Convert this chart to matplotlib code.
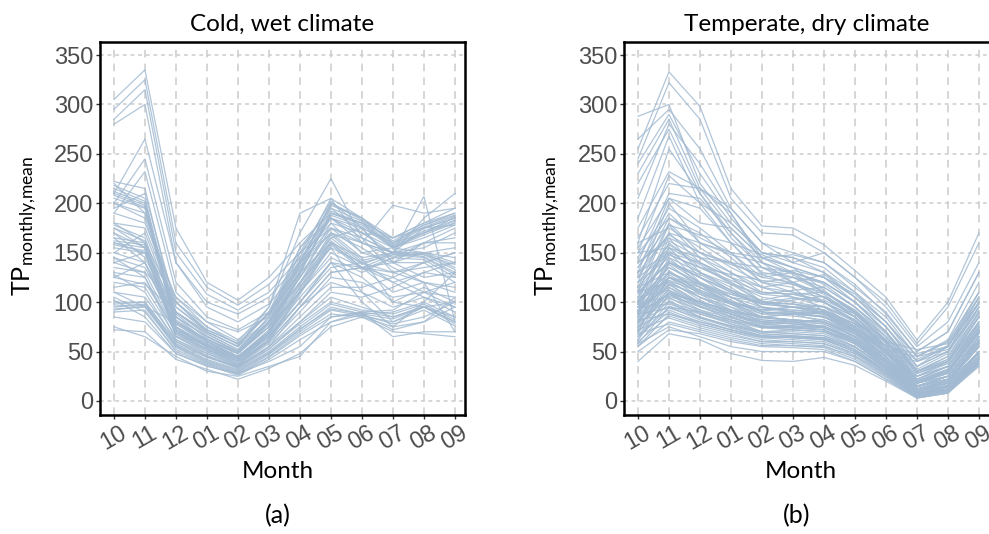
import matplotlib
matplotlib.use("Agg")
import matplotlib.pyplot as plt
import matplotlib.transforms as mtransforms

months = ["10", "11", "12", "01", "02", "03", "04", "05", "06", "07", "08", "09"]
yticks = [0, 50, 100, 150, 200, 250, 300, 350]
titles = ["Cold, wet climate", "Temperate, dry climate"]
panel_tags = ["(a)", "(b)"]

# Panel (a): cold, wet climate
cold_wet = [
    [305, 335, 175, 120, 102, 125, 160, 190, 180, 165, 175, 185],
    [295, 325, 160, 115, 97, 118, 150, 185, 175, 160, 170, 180],
    [285, 315, 150, 108, 92, 110, 145, 180, 170, 155, 165, 178],
    [280, 300, 140, 100, 88, 105, 140, 175, 165, 150, 160, 175],
    [210, 265, 140, 95, 80, 98, 135, 170, 160, 150, 155, 170],
    [200, 245, 120, 85, 72, 90, 140, 200, 185, 160, 178, 190],
    [190, 232, 110, 80, 70, 85, 130, 190, 180, 155, 170, 186],
    [222, 215, 85, 65, 50, 80, 145, 205, 185, 165, 180, 190],
    [218, 205, 82, 62, 48, 75, 140, 200, 183, 162, 178, 188],
    [215, 202, 80, 60, 45, 72, 138, 198, 185, 160, 176, 187],
    [212, 200, 78, 58, 44, 70, 135, 195, 182, 158, 175, 185],
    [210, 198, 75, 55, 42, 68, 130, 192, 180, 157, 172, 183],
    [208, 196, 74, 54, 40, 66, 128, 190, 178, 156, 170, 182],
    [205, 195, 72, 56, 43, 70, 132, 188, 176, 155, 168, 180],
    [220, 190, 90, 68, 52, 85, 150, 202, 175, 140, 160, 165],
    [200, 185, 88, 63, 48, 78, 142, 185, 165, 150, 175, 178],
    [195, 210, 95, 70, 55, 90, 155, 195, 170, 165, 180, 195],
    [178, 165, 80, 62, 48, 75, 125, 175, 150, 155, 150, 140],
    [175, 162, 75, 58, 45, 70, 120, 170, 145, 150, 148, 138],
    [165, 160, 72, 56, 42, 68, 118, 168, 142, 150, 150, 135],
    [162, 158, 70, 55, 40, 65, 115, 165, 140, 148, 148, 133],
    [160, 155, 68, 53, 38, 63, 112, 162, 138, 150, 146, 130],
    [158, 152, 66, 52, 37, 62, 110, 160, 135, 148, 145, 128],
    [155, 150, 65, 50, 36, 60, 108, 158, 133, 145, 143, 125],
    [170, 145, 85, 65, 50, 75, 110, 150, 135, 130, 140, 150],
    [150, 170, 90, 68, 52, 80, 125, 180, 150, 140, 150, 155],
    [180, 175, 95, 72, 58, 88, 135, 185, 160, 145, 160, 160],
    [165, 140, 70, 55, 42, 65, 100, 140, 135, 140, 140, 120],
    [145, 135, 78, 60, 45, 70, 110, 145, 130, 145, 150, 145],
    [140, 150, 72, 57, 44, 68, 115, 155, 140, 130, 135, 140],
    [135, 130, 70, 52, 40, 62, 100, 135, 140, 120, 130, 125],
    [130, 125, 68, 50, 38, 60, 95, 130, 135, 110, 120, 110],
    [125, 140, 75, 56, 42, 66, 105, 140, 125, 100, 115, 100],
    [120, 115, 65, 48, 36, 58, 90, 125, 120, 105, 110, 95],
    [115, 120, 70, 52, 40, 60, 95, 120, 110, 95, 105, 90],
    [110, 105, 62, 46, 34, 55, 85, 115, 115, 125, 140, 150],
    [128, 110, 60, 45, 33, 52, 80, 110, 105, 115, 130, 140],
    [100, 100, 60, 45, 35, 55, 80, 105, 95, 85, 95, 80],
    [98, 100, 58, 44, 34, 53, 78, 100, 92, 88, 98, 82],
    [96, 98, 57, 42, 32, 50, 75, 98, 90, 85, 96, 80],
    [95, 97, 55, 40, 30, 48, 72, 95, 88, 83, 95, 78],
    [93, 95, 54, 39, 29, 47, 70, 92, 86, 80, 92, 76],
    [92, 96, 56, 41, 31, 49, 73, 93, 88, 90, 100, 85],
    [105, 90, 52, 38, 28, 45, 68, 88, 85, 75, 80, 95],
    [90, 92, 50, 37, 27, 44, 66, 85, 90, 92, 110, 120],
    [102, 85, 48, 36, 26, 42, 62, 80, 87, 78, 85, 100],
    [75, 65, 45, 30, 25, 35, 45, 80, 90, 65, 70, 70],
    [72, 70, 42, 32, 22, 33, 48, 75, 85, 70, 68, 65],
    [85, 80, 48, 35, 28, 40, 55, 85, 88, 72, 80, 105],
    [180, 160, 100, 70, 55, 95, 170, 225, 165, 130, 120, 115],
    [150, 140, 85, 60, 48, 80, 150, 175, 160, 150, 207, 80],
    [170, 155, 80, 62, 50, 85, 155, 185, 170, 150, 185, 210],
    [190, 180, 105, 75, 60, 95, 190, 205, 160, 198, 190, 195],
    [140, 130, 100, 72, 58, 90, 140, 170, 155, 135, 120, 70],
    [110, 95, 80, 60, 45, 65, 100, 140, 100, 75, 100, 130],
    [125, 118, 90, 70, 55, 80, 120, 155, 110, 80, 95, 85],
    [160, 150, 105, 80, 62, 88, 130, 160, 145, 100, 95, 100],
    [145, 125, 62, 48, 35, 55, 95, 130, 135, 120, 105, 95],
    [175, 155, 90, 66, 50, 78, 120, 160, 135, 125, 110, 105],
    [200, 190, 100, 75, 57, 82, 125, 165, 175, 140, 125, 130],
]

# Panel (b): temperate, dry climate
temperate_dry = [
    [255, 333, 298, 215, 177, 175, 158, 132, 105, 62, 100, 170],
    [245, 322, 285, 205, 170, 168, 150, 125, 100, 58, 95, 160],
    [288, 300, 220, 180, 150, 140, 130, 110, 85, 45, 60, 110],
    [265, 295, 255, 195, 160, 150, 140, 115, 90, 50, 70, 130],
    [240, 290, 230, 185, 150, 145, 130, 105, 80, 40, 55, 100],
    [230, 285, 215, 175, 145, 130, 120, 100, 75, 35, 50, 95],
    [205, 280, 240, 190, 145, 135, 125, 100, 70, 30, 45, 90],
    [220, 275, 210, 170, 140, 128, 110, 90, 65, 28, 40, 85],
    [185, 268, 200, 160, 130, 125, 115, 95, 70, 32, 48, 100],
    [160, 255, 210, 165, 135, 120, 105, 85, 60, 25, 40, 80],
    [175, 232, 215, 195, 160, 140, 150, 125, 95, 55, 80, 140],
    [150, 228, 200, 180, 150, 145, 135, 110, 80, 45, 60, 110],
    [165, 220, 215, 190, 140, 130, 118, 95, 68, 30, 42, 88],
    [140, 210, 205, 170, 135, 125, 110, 90, 60, 22, 35, 75],
    [130, 205, 195, 160, 128, 118, 105, 85, 55, 20, 30, 70],
    [155, 205, 180, 175, 145, 135, 125, 105, 75, 35, 55, 105],
    [120, 200, 160, 150, 120, 110, 100, 80, 55, 18, 25, 65],
    [145, 195, 175, 150, 125, 130, 110, 90, 60, 25, 35, 80],
    [135, 190, 160, 140, 115, 105, 95, 75, 50, 15, 22, 60],
    [125, 185, 170, 145, 120, 115, 90, 70, 45, 12, 20, 55],
    [115, 180, 150, 130, 110, 108, 100, 85, 55, 20, 30, 70],
    [110, 178, 145, 125, 100, 95, 88, 70, 45, 10, 18, 50],
    [160, 175, 155, 135, 120, 125, 120, 100, 70, 30, 40, 85],
    [100, 170, 140, 120, 100, 98, 92, 72, 48, 15, 22, 58],
    [130, 168, 150, 140, 125, 120, 108, 85, 55, 20, 28, 68],
    [95, 165, 130, 115, 95, 90, 85, 68, 42, 8, 15, 45],
    [140, 162, 145, 130, 115, 110, 105, 88, 60, 25, 35, 78],
    [105, 160, 135, 120, 105, 100, 95, 80, 55, 22, 32, 72],
    [120, 158, 140, 125, 108, 105, 100, 82, 52, 18, 25, 62],
    [90, 155, 125, 105, 90, 88, 80, 65, 40, 10, 15, 48],
    [150, 155, 138, 118, 100, 98, 92, 78, 50, 18, 28, 70],
    [112, 152, 130, 112, 95, 92, 88, 72, 45, 12, 20, 55],
    [98, 150, 120, 100, 85, 82, 78, 62, 38, 8, 12, 42],
    [125, 148, 135, 122, 110, 108, 102, 88, 62, 28, 38, 85],
    [85, 145, 118, 98, 82, 80, 75, 60, 36, 6, 12, 40],
    [108, 142, 125, 110, 98, 95, 90, 75, 48, 15, 22, 60],
    [95, 140, 120, 105, 90, 88, 85, 70, 45, 15, 25, 62],
    [88, 138, 115, 98, 85, 82, 80, 65, 40, 10, 18, 50],
    [102, 135, 118, 102, 88, 86, 82, 68, 42, 12, 20, 58],
    [80, 132, 110, 95, 80, 78, 75, 60, 35, 8, 12, 45],
    [115, 130, 112, 100, 92, 95, 92, 78, 52, 20, 30, 75],
    [92, 128, 108, 92, 80, 78, 76, 62, 38, 10, 16, 48],
    [78, 125, 105, 90, 78, 75, 72, 58, 34, 7, 12, 42],
    [100, 125, 110, 98, 88, 90, 88, 74, 48, 18, 28, 70],
    [85, 122, 102, 88, 76, 74, 72, 58, 35, 8, 14, 45],
    [110, 120, 105, 95, 85, 82, 80, 66, 42, 14, 22, 60],
    [72, 118, 100, 85, 74, 72, 70, 55, 32, 6, 10, 40],
    [90, 118, 98, 88, 78, 80, 82, 70, 45, 15, 25, 65],
    [95, 115, 100, 90, 82, 80, 78, 65, 40, 12, 20, 55],
    [68, 115, 96, 82, 70, 68, 66, 52, 30, 5, 10, 38],
    [82, 112, 95, 85, 75, 74, 72, 60, 38, 10, 18, 50],
    [105, 112, 100, 92, 85, 88, 86, 72, 48, 18, 30, 72],
    [75, 110, 92, 80, 70, 70, 68, 55, 34, 8, 14, 45],
    [88, 108, 95, 86, 78, 76, 74, 62, 40, 12, 20, 55],
    [65, 108, 90, 78, 68, 66, 64, 52, 30, 5, 10, 40],
    [98, 106, 96, 88, 80, 82, 80, 68, 44, 15, 25, 65],
    [78, 105, 88, 78, 70, 68, 66, 55, 33, 8, 15, 48],
    [92, 104, 92, 84, 76, 75, 74, 62, 40, 12, 22, 60],
    [70, 102, 85, 75, 66, 65, 63, 50, 30, 6, 12, 42],
    [85, 100, 90, 82, 75, 74, 72, 60, 38, 10, 20, 55],
    [62, 100, 84, 74, 66, 64, 62, 50, 28, 5, 10, 38],
    [95, 98, 88, 80, 74, 76, 75, 64, 42, 14, 25, 65],
    [80, 96, 85, 76, 68, 66, 64, 52, 32, 8, 15, 48],
    [58, 95, 82, 72, 64, 62, 60, 48, 27, 4, 10, 36],
    [88, 94, 84, 76, 70, 72, 70, 58, 36, 10, 20, 58],
    [75, 92, 80, 72, 65, 64, 62, 50, 30, 6, 14, 45],
    [66, 90, 78, 70, 62, 60, 58, 46, 26, 4, 10, 40],
    [82, 88, 78, 70, 64, 65, 64, 54, 34, 9, 18, 55],
    [60, 86, 76, 68, 60, 58, 56, 44, 25, 4, 9, 37],
    [72, 84, 74, 66, 60, 60, 58, 48, 30, 7, 15, 48],
    [55, 80, 72, 64, 58, 56, 54, 42, 24, 3, 8, 35],
    [68, 78, 70, 62, 56, 56, 55, 45, 28, 6, 12, 45],
    [50, 72, 68, 60, 55, 54, 52, 40, 22, 3, 8, 37],
    [40, 68, 62, 48, 41, 40, 44, 36, 20, 3, 8, 40],
    [58, 75, 65, 55, 50, 50, 50, 40, 22, 4, 10, 42],
    [120, 145, 130, 118, 108, 112, 115, 95, 65, 30, 42, 90],
    [110, 140, 125, 112, 102, 108, 110, 92, 62, 28, 40, 85],
    [130, 150, 140, 125, 115, 120, 128, 105, 75, 40, 55, 110],
    [100, 135, 120, 108, 98, 102, 106, 90, 60, 25, 38, 80],
    [140, 165, 150, 138, 128, 132, 125, 108, 80, 45, 62, 120],
    [90, 125, 115, 105, 100, 104, 100, 85, 58, 22, 35, 78],
    [115, 155, 145, 140, 135, 130, 120, 100, 70, 35, 50, 105],
    [105, 148, 135, 128, 122, 118, 110, 92, 65, 30, 45, 95],
    [125, 170, 160, 148, 140, 120, 100, 80, 55, 20, 32, 70],
    [150, 185, 165, 150, 145, 148, 140, 118, 88, 50, 70, 130],
    [135, 178, 168, 160, 148, 135, 112, 88, 60, 22, 35, 75],
    [98, 130, 118, 108, 100, 98, 95, 82, 56, 20, 30, 72],
    [82, 118, 108, 98, 92, 95, 96, 82, 55, 20, 32, 75],
    [75, 110, 100, 90, 85, 88, 90, 76, 50, 18, 28, 68],
    [92, 122, 110, 100, 94, 92, 90, 78, 52, 18, 30, 70],
    [100, 130, 115, 100, 90, 88, 85, 72, 55, 48, 55, 100],
    [90, 120, 105, 92, 84, 82, 80, 68, 52, 45, 52, 95],
    [110, 140, 125, 110, 98, 95, 92, 78, 60, 52, 58, 105],
    [80, 110, 98, 88, 80, 78, 75, 62, 48, 40, 50, 92],
    [95, 125, 112, 100, 92, 90, 88, 74, 56, 42, 56, 98],
    [62, 108, 100, 92, 85, 80, 75, 62, 40, 12, 22, 60],
    [70, 125, 118, 105, 95, 90, 85, 70, 45, 15, 25, 65],
    [78, 140, 128, 112, 100, 95, 90, 75, 50, 18, 30, 72],
    [65, 95, 90, 82, 75, 72, 70, 58, 35, 8, 16, 50],
    [55, 88, 80, 72, 66, 64, 62, 50, 30, 5, 12, 44],
]

datasets = [cold_wet, temperate_dry]

plt.rcParams["mathtext.fontset"] = "custom"
plt.rcParams["mathtext.rm"] = "Lato"
plt.rcParams["mathtext.it"] = "Lato:italic"
plt.rcParams["mathtext.bf"] = "Lato:bold"

W, H = 989, 534
fig = plt.figure(figsize=(W / 100, H / 100), dpi=100)
fig.patch.set_facecolor("white")

line_color = "#a3bbd2"
grid_color = "#cccccc"
tick_font = ["Liberation Sans", "DejaVu Sans"]
label_font = ["Lato", "DejaVu Sans"]

# axes boxes in pixel coords (left, top, right, bottom)
boxes = [(100, 42, 465, 415), (624, 42, 989 + 1, 415)]
month_x = [278, 801]
tag_x = [278, 797]
ylab_x = [25, 548]
x_positions = list(range(len(months)))

for i, (data, box) in enumerate(zip(datasets, boxes)):
    l, t, r, b = box
    ax = fig.add_axes([l / W, 1 - b / H, (r - l) / W, (b - t) / H])
    for series in data:
        ax.plot(x_positions, series, color=line_color, lw=0.9, alpha=0.85, zorder=3)
    ax.set_xlim(-0.45, -0.45 + (r - l) / 31.0)
    ax.set_ylim(-14.2, 363.2)
    ax.set_xticks(x_positions)
    ax.set_yticks(yticks)
    for x in x_positions:
        ax.axvline(x, color=grid_color, lw=1.1, ls=(0, (5, 4)), zorder=1)
    for y in yticks:
        ax.axhline(y, color=grid_color, lw=1.1, ls=(0, (2.5, 2.5)), zorder=1)
    ax.set_yticklabels([str(v) for v in yticks], fontsize=17, color="#4d4d4d",
                       family=tick_font)
    labels = ax.set_xticklabels(months, fontsize=17, color="#4d4d4d",
                                family=tick_font, rotation=30, ha="center")
    offset = mtransforms.ScaledTranslation(-5 / 100, 3 / 100, fig.dpi_scale_trans)
    for lab in labels:
        lab.set_transform(lab.get_transform() + offset)
    ax.tick_params(axis="both", length=3, width=1, color="#333333", pad=2)
    for s in ax.spines.values():
        s.set_linewidth(1.8)
        s.set_color("black")
    ax.set_title(titles[i], fontsize=17.5, family=label_font, pad=8)
    fig.text(month_x[i] / W, 1 - 472 / H, "Month", fontsize=17.5,
             family=label_font, ha="center", va="center")
    fig.text(ylab_x[i] / W, 1 - 226 / H, r"TP$_{\mathrm{monthly{,}mean}}$",
             fontsize=18, family=label_font, rotation=90, ha="center", va="center")
    fig.text(tag_x[i] / W, 1 - 516 / H, panel_tags[i], fontsize=18,
             family=label_font, ha="center", va="center")

fig.savefig("out.png", dpi=100, facecolor="white")
